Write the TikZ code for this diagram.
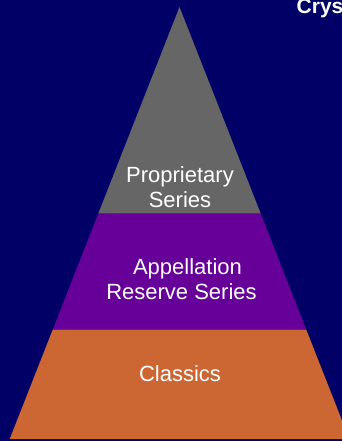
\documentclass[tikz,border=0pt]{standalone}
\usepackage{fontspec}
\setmainfont{Liberation Sans}
\usetikzlibrary{positioning}
\definecolor{bgnavy}{HTML}{000066}
\definecolor{tiergray}{HTML}{666666}
\definecolor{tierpurple}{HTML}{660099}
\definecolor{tierorange}{HTML}{CC6633}
\begin{document}
\begin{tikzpicture}[x=1pt, y=-1pt,
    tier/.style={draw=none},
    tiertext/.style={text=white, font=\fontsize{22}{25}\selectfont, align=center, inner sep=0pt}
]
    \useasboundingbox (0,0) rectangle (342,441);
    \fill[bgnavy] (0,0) rectangle (342,441);
    \begin{scope}
    \clip (0,0) rectangle (342,441);
    % pyramid tiers
    \fill[tiergray] (179.5,7) -- (260.7,213.5) -- (98.3,213.5) -- cycle;
    \fill[tierpurple] (98.3,213.5) -- (260.7,213.5) -- (306.2,329.5) -- (52.8,329.5) -- cycle;
    \fill[tierorange] (52.8,329.5) -- (306.2,329.5) -- (349.3,439) -- (9.7,439) -- cycle;
    \node[text=white, font=\fontsize{21}{25}\selectfont\bfseries, anchor=base west, inner sep=0pt] (title) at (296.5,14) {Crystal};
    \end{scope}
    \node[tiertext] (prop) at (180,187) {Proprietary\\Series};
    \node[tiertext] (appel) at (181.5,279) {\hspace*{12pt}Appellation\\Reserve Series};
    \node[tiertext, anchor=base] (classics) at (180,381) {Classics};
\end{tikzpicture}
\end{document}
